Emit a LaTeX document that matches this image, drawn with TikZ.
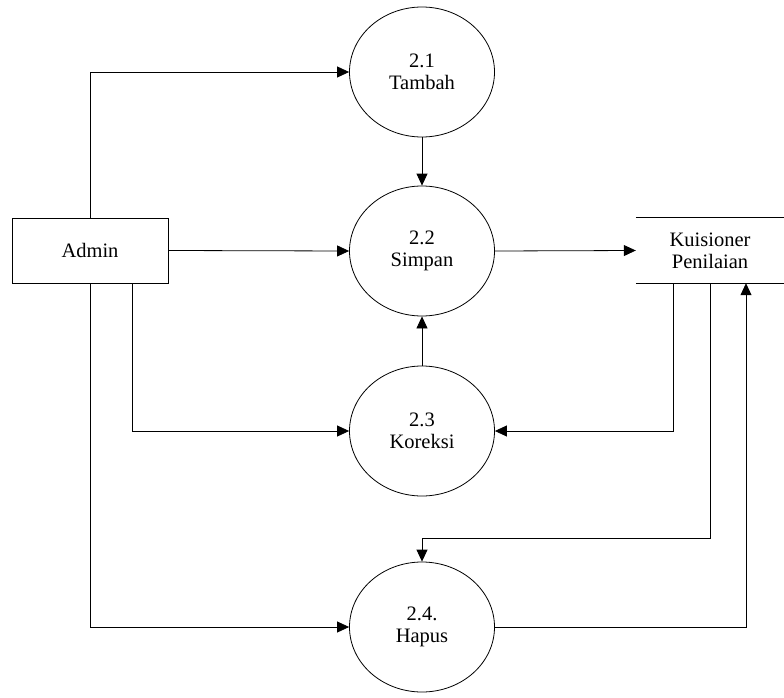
\documentclass[tikz,border=0pt]{standalone}
\usepackage{fontspec}
\setmainfont{Liberation Serif}
\usetikzlibrary{shapes.geometric,arrows.meta}
\begin{document}
\begin{tikzpicture}[x=1pt,y=-1pt,
  teks/.style={align=center,font=\fontsize{20.5}{22}\selectfont},
  proses/.style={teks,ellipse,draw,line width=0.8pt,minimum width=145pt,minimum height=130pt,inner sep=0pt},
  entitas/.style={teks,draw,line width=0.8pt,minimum width=156pt,minimum height=65pt},
  gudang/.style={teks,minimum width=148pt,minimum height=65pt},
  alir/.style={-{Triangle[length=12pt,width=11pt]},line width=0.8pt}]
\useasboundingbox (0,0) rectangle (784,698);
% entitas dan data store
\node[entitas] (admin) at (90,250.5) {Admin};
\node[gudang] (kuis) at (710,250.5) {Kuisioner\\Penilaian};
\draw[line width=0.8pt] (kuis.north west) -- (kuis.north east);
\draw[line width=0.8pt] (kuis.south west) -- (kuis.south east);
% proses
\node[proses] (p21) at (422,72) {2.1\\Tambah};
\node[proses] (p22) at (422,251) {2.2\\Simpan};
\node[proses] (p23) at (422,431) {2.3\\Koreksi};
\node[proses] (p24) at (422,627) {2.4.\\Hapus};
\coordinate (belok) at (710,538);
% aliran data
\draw[alir] (admin.north) |- (p21.west);
\draw[alir] (admin.east) -- (p22.west);
\draw[alir] ([xshift=42pt]admin.south) |- (p23.west);
\draw[alir] (admin.south) |- (p24.west);
\draw[alir] (p21.south) -- (p22.north);
\draw[alir] (p23.north) -- (p22.south);
\draw[alir] (p22.east) -- (kuis.west);
\draw[alir] ([xshift=-37pt]kuis.south) |- (p23.east);
\draw[alir] (kuis.south) -- (belok) -| (p24.north);
\draw[alir] (p24.east) -| ([xshift=36pt]kuis.south);
\end{tikzpicture}
\end{document}
